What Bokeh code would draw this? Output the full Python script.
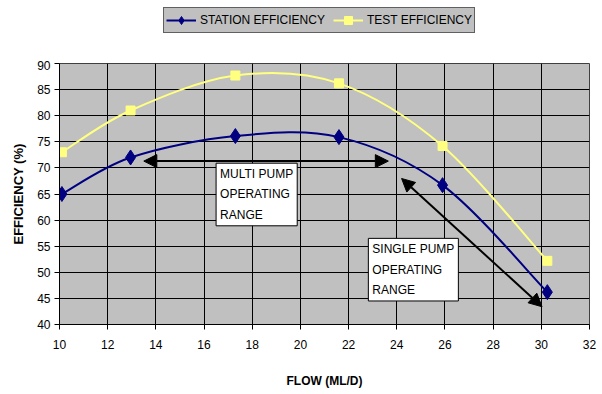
from bokeh.plotting import figure
from bokeh.layouts import column
from bokeh.models import (Range1d, FixedTicker, Legend, LegendItem, Label, Arrow,
                          NormalHead, ColumnDataSource)
from bokeh.embed import file_html
from bokeh.resources import INLINE

# ---- data ----
flow = [10.1, 12.95, 17.3, 21.6, 25.9, 30.25]
station_eff = [65, 72, 76.1, 75.9, 66.7, 46.2]
test_eff = [73, 81, 87.7, 86.2, 74.2, 52.2]
x_ticks = [10, 12, 14, 16, 18, 20, 22, 24, 26, 28, 30, 32]
y_ticks = [40, 45, 50, 55, 60, 65, 70, 75, 80, 85, 90]
series_names = ["STATION EFFICIENCY", "TEST EFFICIENCY"]
multi_arrow = [13.5, 71.3, 23.65, 71.3]
single_arrow = [24.2, 67.97, 30.03, 43.4]

FONT = "Liberation Sans"
NAVY = "#000080"
YELLOW = "#ffff80"


def smooth_segments(xs, ys):
    """Excel-style smoothing: cubic Bezier control points from neighbours."""
    n = len(xs)
    d = dict(x0=[], y0=[], x1=[], y1=[], cx0=[], cy0=[], cx1=[], cy1=[])
    for i in range(n - 1):
        im = max(i - 1, 0)
        ip2 = min(i + 2, n - 1)
        d["x0"].append(xs[i]); d["y0"].append(ys[i])
        d["x1"].append(xs[i + 1]); d["y1"].append(ys[i + 1])
        d["cx0"].append(xs[i] + (xs[i + 1] - xs[im]) / 6)
        d["cy0"].append(ys[i] + (ys[i + 1] - ys[im]) / 6)
        d["cx1"].append(xs[i + 1] - (xs[ip2] - xs[i]) / 6)
        d["cy1"].append(ys[i + 1] - (ys[ip2] - ys[i]) / 6)
    return ColumnDataSource(d)


# ---------------- legend strip (top) ----------------
LEG_H = 60
lg = figure(width=602, height=LEG_H, output_backend="svg", toolbar_location=None,
            x_range=Range1d(0, 1), y_range=Range1d(0, 1),
            x_axis_type=None, y_axis_type=None,
            min_border_left=0, min_border_right=0, min_border_top=0,
            min_border_bottom=0)
lg.outline_line_color = None
lg.grid.visible = False
lg.background_fill_color = "white"
lg.border_fill_color = "white"

# hidden copies of the series: they only provide the legend swatches
st_line_px = lg.line(flow, station_eff, line_color=NAVY, line_width=2, visible=False)
st_mark_px = lg.scatter(flow, station_eff, marker="diamond", fill_color=NAVY,
                        line_color=NAVY, visible=False)
te_line_px = lg.line(flow, test_eff, line_color=YELLOW, line_width=2, visible=False)
te_mark_px = lg.scatter(flow, test_eff, marker="square", fill_color=YELLOW,
                        line_color=YELLOW, visible=False)

legend = Legend(items=[
    LegendItem(label=series_names[0], renderers=[st_line_px, st_mark_px]),
    LegendItem(label=series_names[1], renderers=[te_line_px, te_mark_px]),
], orientation="horizontal", location=(104, LEG_H - 33))
legend.label_text_font = FONT
legend.label_text_font_size = "12px"
legend.label_text_color = "black"
legend.label_standoff = 4
legend.glyph_width = 30
legend.glyph_height = 20
legend.spacing = 8
legend.padding = 2
legend.margin = 0
legend.background_fill_color = "#c0c0c0"
legend.background_fill_alpha = 1.0
legend.border_line_color = "black"
legend.border_line_width = 1
legend.inactive_fill_alpha = 0.0
lg.add_layout(legend, "center")

# ---------------- main chart ----------------
p = figure(width=602, height=394 - LEG_H, output_backend="svg", toolbar_location=None,
           x_range=Range1d(10, 32), y_range=Range1d(40, 90),
           min_border_left=59, min_border_right=13, min_border_top=63 - LEG_H,
           min_border_bottom=70)
p.border_fill_color = "white"
p.outline_line_color = "#404040"
p.outline_line_width = 1
p.background_fill_color = "#c0c0c0"

p.xgrid.ticker = FixedTicker(ticks=x_ticks)
p.ygrid.ticker = FixedTicker(ticks=y_ticks)
for g in (p.xgrid, p.ygrid):
    g.grid_line_color = "black"
    g.grid_line_width = 1
    g.grid_line_alpha = 1.0

p.xaxis.ticker = FixedTicker(ticks=x_ticks)
p.yaxis.ticker = FixedTicker(ticks=y_ticks)
for ax in (p.xaxis, p.yaxis):
    ax.axis_line_color = "black"
    ax.major_tick_line_color = "black"
    ax.major_tick_out = 5
    ax.major_tick_in = 0
    ax.minor_tick_line_color = None
    ax.major_label_text_font = FONT
    ax.major_label_text_font_size = "12px"
    ax.major_label_text_color = "black"
    ax.axis_label_text_font = FONT
    ax.axis_label_text_font_size = "12px"
    ax.axis_label_text_font_style = "bold"
    ax.axis_label_text_color = "black"
p.xaxis.axis_label = "FLOW (ML/D)"
p.yaxis.axis_label = "EFFICIENCY (%)"
p.yaxis.axis_label_text_font_size = "13px"
p.xaxis.major_label_standoff = 10
p.xaxis.axis_label_standoff = 22
p.yaxis.major_label_standoff = 4
p.yaxis.axis_label_standoff = 8

st_src = smooth_segments(flow, station_eff)
te_src = smooth_segments(flow, test_eff)
p.bezier(x0="x0", y0="y0", x1="x1", y1="y1", cx0="cx0", cy0="cy0",
         cx1="cx1", cy1="cy1", source=te_src, line_color=YELLOW, line_width=2)
p.bezier(x0="x0", y0="y0", x1="x1", y1="y1", cx0="cx0", cy0="cy0",
         cx1="cx1", cy1="cy1", source=st_src, line_color=NAVY, line_width=2)
p.scatter(flow, test_eff, marker="square", size=9, fill_color=YELLOW, line_color=YELLOW)
p.scatter(flow, station_eff, marker="diamond", size=15, fill_color=NAVY, line_color=NAVY)

for a in (multi_arrow, single_arrow):
    p.add_layout(Arrow(x_start=a[0], y_start=a[1], x_end=a[2], y_end=a[3],
                       start=NormalHead(size=13, fill_color="black", line_color="black"),
                       end=NormalHead(size=13, fill_color="black", line_color="black"),
                       line_color="black", line_width=2))

for tx, ty, txt in [(16.5, 70.9, "MULTI PUMP\nOPERATING\nRANGE"),
                    (22.82, 56.5, "SINGLE PUMP\nOPERATING\nRANGE")]:
    p.add_layout(Label(x=tx, y=ty, text=txt, anchor="top_left",
                       text_font=FONT, text_font_size="12px", text_color="black",
                       text_line_height=1.45,
                       background_fill_color="white", border_line_color="black",
                       border_line_width=1, padding=4))

layout = column(lg, p, spacing=0)
open("out.html", "w").write(file_html(layout, INLINE))
